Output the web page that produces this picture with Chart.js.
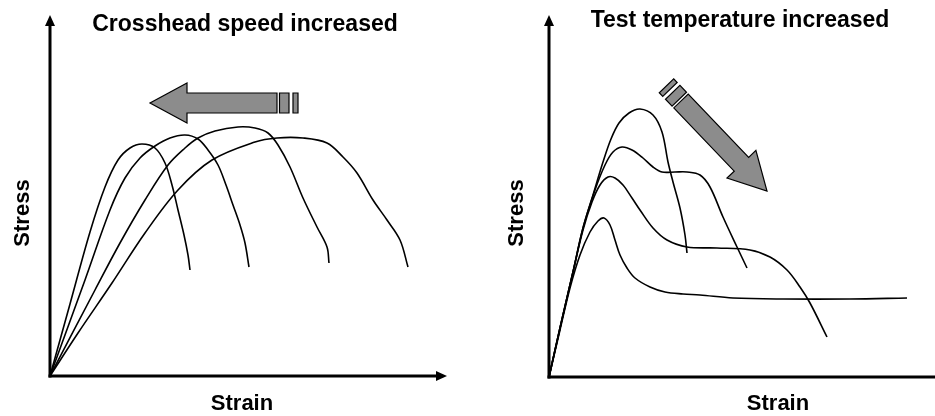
<!DOCTYPE html>
<html><head><meta charset="utf-8">
<script src="https://cdn.jsdelivr.net/npm/chart.js@4/dist/chart.umd.min.js"></script>
<style>
html,body{margin:0;padding:0;background:#fff;width:935px;height:416px;overflow:hidden}
#l{position:absolute;left:0;top:0}
#r{position:absolute;left:470px;top:0}
</style></head><body>
<canvas id="l" width="470" height="416"></canvas>
<canvas id="r" width="465" height="416"></canvas>
<script>
// ---- Left panel: crosshead speed increased (strain, stress) in arbitrary units
const speedCurve1 = [[0,0],[20,72],[40,144],[55,189],[68,216],[80,228],[92,232],[105,228],[115,213],[122,191],[128,166],[134,141],[138,121],[140,106]];
const speedCurve2 = [[0,0],[35,96],[60,166],[75,198],[90,218],[105,230],[120,238],[135,241],[148,237],[158,226],[168,211],[176,191],[183,171],[190,151],[195,133],[199,109]];
const speedCurve3 = [[0,0],[45,86],[70,133],[95,176],[118,211],[135,228],[148,238],[165,245],[188,249],[205,248],[218,243],[228,231],[240,209],[253,178],[267,149],[277,129],[279,113]];
const speedCurve4 = [[0,0],[28,43],[62,93],[95,143],[128,186],[162,216],[205,234],[227,238],[253,238],[277,233],[293,219],[307,203],[323,176],[337,156],[350,136],[358,109]];
// ---- Right panel: test temperature increased
const tempCurve1 = [[0,0],[11,49],[24,105],[34,149],[44,182],[54,215],[62,238],[70,254],[80,264],[91,268],[104,262],[113,245],[119,215],[124,195],[131,169],[136,142],[138,124]];
const tempCurve2 = [[0,0],[11,49],[24,105],[34,149],[46,187],[56,212],[64,225],[73,230],[83,227],[94,219],[104,210],[113,205],[126,205],[138,205],[151,202],[161,190],[174,160],[188,130],[198,109]];
const tempCurve3 = [[0,0],[11,49],[24,105],[34,147],[43,175],[51,192],[59,200],[66,199],[74,192],[83,179],[91,167],[104,149],[118,137],[138,130],[168,129],[201,127],[221,120],[238,107],[251,90],[261,74],[278,40]];
const tempCurve4 = [[0,0],[11,47],[21,89],[31,122],[41,145],[49,156],[55,159],[61,152],[66,137],[71,122],[78,109],[86,99],[101,90],[116,85],[134,83],[151,82],[184,79],[234,78],[301,78],[358,79]];

const titles = ['Crosshead speed increased', 'Test temperature increased'];
const xLabel = 'Strain';
const yLabel = 'Stress';

const toXY = arr => arr.map(p => ({x:p[0], y:p[1]}));
const ds = arr => ({data: toXY(arr), borderColor:'#000', borderWidth:1.6, pointRadius:0, fill:false, tension:0.35});

const decor = {
  id:'decor',
  afterDraw(chart, args, o){
    const {ctx, chartArea:a, scales:{x, y}} = chart;
    ctx.save();
    // axes
    ctx.strokeStyle = '#000'; ctx.fillStyle = '#000'; ctx.lineWidth = 3;
    ctx.beginPath(); ctx.moveTo(a.left, a.bottom + 1.5); ctx.lineTo(a.left, a.top + 8); ctx.stroke();
    ctx.beginPath(); ctx.moveTo(a.left, a.top); ctx.lineTo(a.left - 5, a.top + 11); ctx.lineTo(a.left + 5, a.top + 11); ctx.closePath(); ctx.fill();
    ctx.beginPath(); ctx.moveTo(a.left - 1.5, a.bottom); ctx.lineTo(o.xArrow ? a.right - 8 : a.right + 2, a.bottom); ctx.stroke();
    if (o.xArrow) {
      ctx.beginPath(); ctx.moveTo(a.right, a.bottom); ctx.lineTo(a.right - 11, a.bottom - 5); ctx.lineTo(a.right - 11, a.bottom + 5); ctx.closePath(); ctx.fill();
    }
    // block arrow
    const ar = o.arrow;
    const T = {x: x.getPixelForValue(ar.tip[0]), y: y.getPixelForValue(ar.tip[1])};
    const S = {x: x.getPixelForValue(ar.tail[0]), y: y.getPixelForValue(ar.tail[1])};
    let ux = T.x - S.x, uy = T.y - S.y; const L = Math.hypot(ux, uy); ux /= L; uy /= L;
    const nx = -uy, ny = ux;
    const hl = 37, hw = 20, sw = 10;
    const B = {x: T.x - ux*hl, y: T.y - uy*hl};
    ctx.fillStyle = '#8c8c8c'; ctx.strokeStyle = '#000'; ctx.lineWidth = 1.2; ctx.lineJoin = 'miter';
    ctx.beginPath();
    ctx.moveTo(S.x + nx*sw, S.y + ny*sw);
    ctx.lineTo(B.x + nx*sw, B.y + ny*sw);
    ctx.lineTo(B.x + nx*hw, B.y + ny*hw);
    ctx.lineTo(T.x, T.y);
    ctx.lineTo(B.x - nx*hw, B.y - ny*hw);
    ctx.lineTo(B.x - nx*sw, B.y - ny*sw);
    ctx.lineTo(S.x - nx*sw, S.y - ny*sw);
    ctx.closePath(); ctx.fill(); ctx.stroke();
    for (const [d0, d1] of [[2.5, 12], [16, 21]]) {
      const P0 = {x: S.x - ux*d0, y: S.y - uy*d0}, P1 = {x: S.x - ux*d1, y: S.y - uy*d1};
      ctx.beginPath();
      ctx.moveTo(P0.x + nx*sw, P0.y + ny*sw);
      ctx.lineTo(P1.x + nx*sw, P1.y + ny*sw);
      ctx.lineTo(P1.x - nx*sw, P1.y - ny*sw);
      ctx.lineTo(P0.x - nx*sw, P0.y - ny*sw);
      ctx.closePath(); ctx.fill(); ctx.stroke();
    }
    // texts
    ctx.fillStyle = '#000';
    ctx.textAlign = 'center'; ctx.textBaseline = 'alphabetic';
    ctx.font = 'bold 23px "Liberation Sans", Arial, sans-serif';
    ctx.fillText(o.title, o.titlePos[0], o.titlePos[1]);
    ctx.font = 'bold 22px "Liberation Sans", Arial, sans-serif';
    ctx.fillText(xLabel, o.xLabelPos[0], o.xLabelPos[1]);
    ctx.save();
    ctx.translate(o.yLabelPos[0], o.yLabelPos[1]);
    ctx.rotate(-Math.PI/2);
    ctx.fillText(yLabel, 0, 0);
    ctx.restore();
    ctx.restore();
  }
};

function makeChart(id, curves, xMax, yMax, padding, deco) {
  return new Chart(document.getElementById(id), {
    type: 'line',
    data: { datasets: curves.map(ds) },
    options: {
      responsive: false, animation: false, devicePixelRatio: 1,
      layout: { padding },
      scales: {
        x: { type: 'linear', min: 0, max: xMax, display: false },
        y: { type: 'linear', min: 0, max: yMax, display: false }
      },
      plugins: { legend: {display:false}, tooltip: {enabled:false}, decor: deco }
    },
    plugins: [decor]
  });
}

makeChart('l', [speedCurve1, speedCurve2, speedCurve3, speedCurve4], 397, 361,
  {left:50, right:23, top:15, bottom:40},
  {xArrow:true, arrow:{tip:[100,273], tail:[227,273]}, title:titles[0], titlePos:[245,31], xLabelPos:[242,410], yLabelPos:[29,213]});

makeChart('r', [tempCurve1, tempCurve2, tempCurve3, tempCurve4], 386, 362,
  {left:79, right:0, top:15, bottom:39},
  {xArrow:false, arrow:{tip:[218,186], tail:[132,276]}, title:titles[1], titlePos:[270,27], xLabelPos:[308,410], yLabelPos:[53,213]});
</script>
</body></html>
